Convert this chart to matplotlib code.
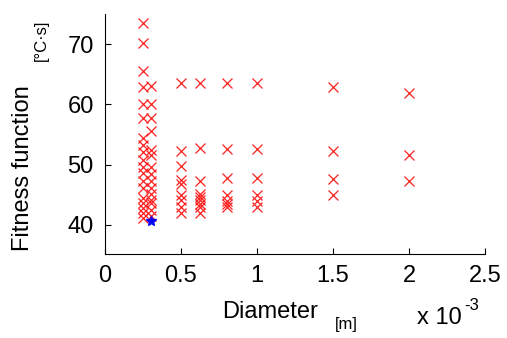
import matplotlib
matplotlib.use("Agg")
import matplotlib.pyplot as plt

plt.rcParams['font.family'] = ['Liberation Sans', 'DejaVu Sans']

# pipe diameter (x 10^-3 m) and fitness values found for each diameter
diameters = [0.25, 0.3, 0.5, 0.625, 0.8, 1.0, 1.5, 2.0]
fitness = [
    [73.5, 70.2, 65.6, 62.8, 60.0, 57.8, 54.4, 53.3, 52.1, 50.8, 49.6, 48.6,
     47.2, 46.1, 44.4, 43.6, 42.8, 41.9, 41.1],
    [63.0, 60.0, 57.8, 55.6, 52.4, 51.6, 49.6, 48.4, 47.2, 46.2, 45.2, 44.2,
     43.6, 42.5, 41.4],
    [63.5, 52.3, 49.7, 47.4, 46.8, 45.0, 44.1, 43.0, 41.9],
    [63.5, 52.7, 47.2, 45.2, 44.6, 44.1, 43.5, 43.0, 41.9],
    [63.5, 52.6, 47.7, 45.0, 43.9, 43.4, 42.9],
    [63.5, 52.6, 47.7, 45.0, 43.9, 43.0],
    [62.9, 52.3, 47.6, 45.0],
    [61.9, 51.6, 47.3],
]
best_diameter = 0.3
best_fitness = 40.6

xticks = [0, 0.5, 1, 1.5, 2, 2.5]
xticklabels = ['0', '0.5', '1', '1.5', '2', '2.5']
yticks = [40, 50, 60, 70]

fig = plt.figure(figsize=(5.07, 3.38), dpi=100)
ax = fig.add_axes([0.207, 0.249, 0.75, 0.71])

xs, ys = [], []
for d, vals in zip(diameters, fitness):
    xs += [d] * len(vals)
    ys += vals
ax.plot(xs, ys, 'x', color='#ff2020', markersize=7, markeredgewidth=0.9)
ax.plot([best_diameter], [best_fitness], '*', color='blue', markersize=7)

ax.set_xlim(0, 2.5)
ax.set_ylim(35.2, 75)
ax.set_xticks(xticks)
ax.set_xticklabels(xticklabels)
ax.set_yticks(yticks)
ax.tick_params(direction='in', length=4, labelsize=17, pad=8, width=0.8)
for side in ['top', 'right']:
    ax.spines[side].set_visible(False)

W, H = 507, 338
def px(x, y):
    return x / W, 1 - y / H

fig.text(*px(23, 168), 'Fitness function', rotation=90, fontsize=17,
         ha='center', va='center')
fig.text(*px(41, 40), '[°C·s]', rotation=90, fontsize=12,
         ha='center', va='center')
fig.text(*px(270, 312), 'Diameter', fontsize=17, ha='center', va='center')
fig.text(*px(346, 325), '[m]', fontsize=12, ha='center', va='center')
fig.text(*px(439, 318), 'x 10', fontsize=17, ha='center', va='center')
fig.text(*px(472, 305), '-3', fontsize=12, ha='center', va='center')

fig.savefig('out.png', dpi=100)
